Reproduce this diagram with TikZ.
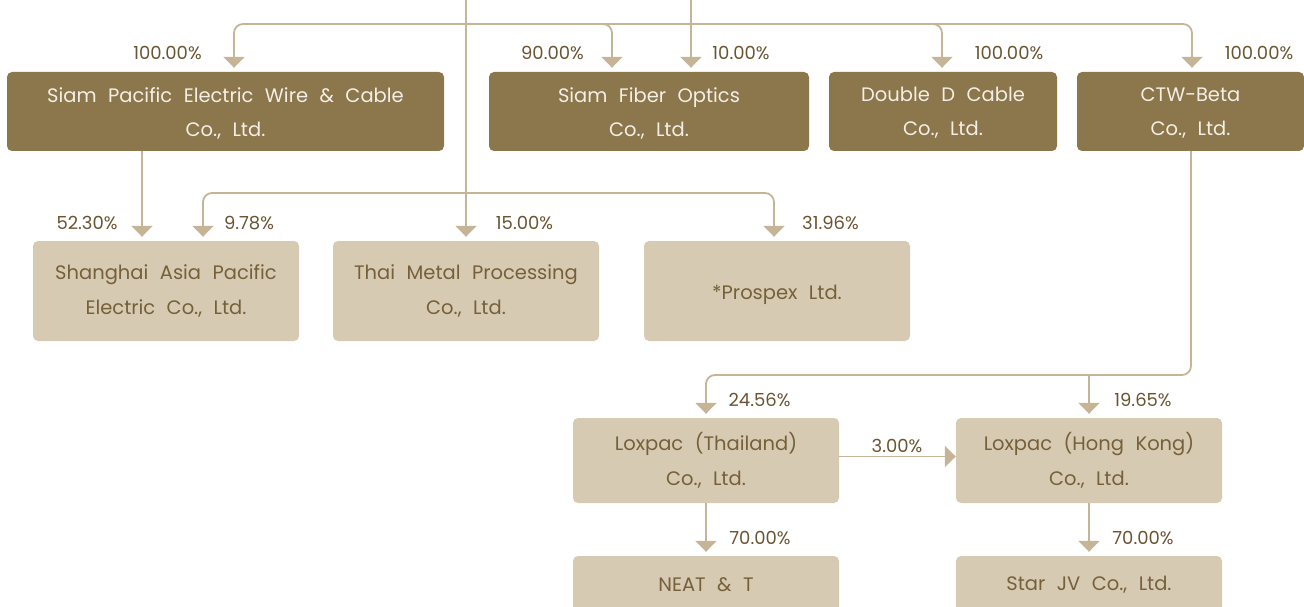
\documentclass[tikz,border=0pt]{standalone}
\usepackage{fontspec}
\setmainfont{Poppins}[WordSpace=2.2]
\usetikzlibrary{arrows.meta}
\definecolor{darkbox}{HTML}{8C764C}
\definecolor{lightbox}{HTML}{D7CAB2}
\definecolor{lighttext}{HTML}{76603A}
\definecolor{darktext}{HTML}{F4EFE6}
\definecolor{pcttext}{HTML}{6A5432}
\definecolor{linecol}{HTML}{C6B496}
\tikzset{
  dbox/.style={fill=darkbox, rounded corners=5pt, inner sep=0pt, minimum height=79pt},
  lbox/.style={fill=lightbox, rounded corners=5pt, inner sep=0pt, minimum width=266pt},
  dtext/.style={text=darktext, align=center, inner sep=0pt, yshift=-1.5pt,
    font=\fontsize{19.5}{34}\selectfont},
  ltext/.style={text=lighttext, align=center, inner sep=0pt,
    font=\fontsize{19.5}{35}\selectfont},
  pct/.style={text=pcttext, inner sep=0pt, font=\fontsize{18}{20}\selectfont},
  conn/.style={draw=linecol, line width=1.8pt, rounded corners=9pt,
    -{Triangle[width=21pt,length=11pt]}, shorten >=4pt},
  plainline/.style={draw=linecol, line width=1.8pt, rounded corners=9pt}
}
\begin{document}
\begin{tikzpicture}[x=1pt,y=-1pt]
\useasboundingbox (0,0) rectangle (1304,607);
\clip (0,0) rectangle (1304,607);
% top row
\node[dbox, minimum width=437pt, label={[dtext]center:{Siam Pacific Electric Wire \& Cable\\Co., Ltd.}}] (spewc) at (225.5,111.5) {};
\node[dbox, minimum width=320pt, label={[dtext]center:{Siam Fiber Optics\\Co., Ltd.}}] (sfo) at (649,111.5) {};
\node[dbox, minimum width=228pt, label={[dtext]center:{Double D Cable\\Co., Ltd.}}] (ddc) at (943,111.5) {};
\node[dbox, minimum width=227pt, label={[dtext]center:{CTW-Beta\\Co., Ltd.}}] (ctw) at (1190.5,111.5) {};
% second row
\node[lbox, minimum height=100pt, label={[ltext]center:{Shanghai Asia Pacific\\Electric Co., Ltd.}}] (sha) at (166,291) {};
\node[lbox, minimum height=100pt, label={[ltext]center:{Thai Metal Processing\\Co., Ltd.}}] (tmp) at (466,291) {};
\node[lbox, minimum height=100pt, label={[ltext, yshift=-3.5pt]center:{*Prospex Ltd.}}] (pro) at (777,291) {};
% third row
\node[lbox, minimum height=85pt, label={[ltext]center:{Loxpac (Thailand)\\Co., Ltd.}}] (loxth) at (706,460.5) {};
\node[lbox, minimum height=85pt, label={[ltext]center:{Loxpac (Hong Kong)\\Co., Ltd.}}] (loxhk) at (1089,460.5) {};
% fourth row
\node[lbox, minimum height=58pt, label={[ltext]center:{NEAT \& T}}] (neat) at (706,585) {};
\node[lbox, minimum height=58pt, label={[ltext]center:{Star JV Co., Ltd.}}] (star) at (1089,585) {};
% coordinates
\coordinate (top1) at (466,0);
\coordinate (top2) at (691,0);
\coordinate (hub1) at (466,24);
\coordinate (hub2) at (466,193);
\coordinate (hub3) at (1089,375);
% connectors top
\draw[conn] (top2) -- ([xshift=42pt]sfo.north);
\draw[conn] (top1) -- (tmp.north);
\draw[conn] (hub1) -| ([xshift=8.5pt]spewc.north);
\draw[conn] (hub1) -| ([xshift=-37pt]sfo.north);
\draw[conn] (hub1) -| ([xshift=-1pt]ddc.north);
\draw[conn] (hub1) -| ([xshift=1.5pt]ctw.north);
% second level
\draw[conn] ([xshift=-83.5pt]spewc.south) -- ([xshift=-24pt]sha.north);
\draw[conn] (hub2) -| ([xshift=37pt]sha.north);
\draw[conn] (hub2) -| ([xshift=-3pt]pro.north);
% ctw branch
\draw[plainline] ([xshift=0.5pt]ctw.south) |- (hub3);
\draw[conn] (hub3) -| (loxth.north);
\draw[conn] (hub3) -- (loxhk.north);
\draw[conn, shorten >=0pt] ([yshift=4pt]loxth.east) -- ([yshift=4pt]loxhk.west);
\draw[conn] (loxth.south) -- (neat.north);
\draw[conn] (loxhk.south) -- (star.north);
% labels
\node[pct] (p1) at (167.5,53) {100.00\%};
\node[pct] (p2) at (552.5,53) {90.00\%};
\node[pct] (p3) at (741,53) {10.00\%};
\node[pct] (p4) at (1009,53) {100.00\%};
\node[pct] (p5) at (1259,53) {100.00\%};
\node[pct] (p6) at (87,223) {52.30\%};
\node[pct] (p7) at (249,223) {9.78\%};
\node[pct] (p8) at (524.5,223) {15.00\%};
\node[pct] (p9) at (830.5,223) {31.96\%};
\node[pct] (p10) at (759.5,400) {24.56\%};
\node[pct] (p11) at (1143,400) {19.65\%};
\node[pct] (p12) at (897,446) {3.00\%};
\node[pct] (p13) at (760,538) {70.00\%};
\node[pct] (p14) at (1143,538) {70.00\%};
\end{tikzpicture}
\end{document}
